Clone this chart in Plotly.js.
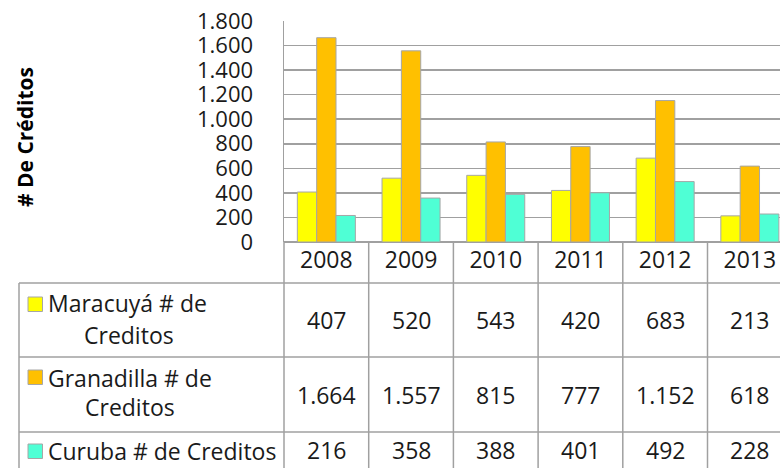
<!DOCTYPE html>
<html><head><meta charset="utf-8">
<script src="https://cdn.plot.ly/plotly-3.0.1.min.js"></script>
<style>body{margin:0;background:#fff}#chart{width:780px;height:468px}</style>
</head><body><div id="chart"></div>
<script>
// ---- data ----
const years = ['2008', '2009', '2010', '2011', '2012', '2013'];
const maracuya = [407, 520, 543, 420, 683, 213];
const granadilla = [1664, 1557, 815, 777, 1152, 618];
const curuba = [216, 358, 388, 401, 492, 228];
const seriesNames = ['Maracuyá # de Creditos', 'Granadilla # de Creditos', 'Curuba # de Creditos'];
const seriesColors = ['#FFFF00', '#FFC000', '#4FFFD5'];
const yTitle = '# De Créditos';
const yTickVals = [0, 200, 400, 600, 800, 1000, 1200, 1400, 1600, 1800];

// ---- layout constants ----
const W = 780, H = 468, ML = 284, MR = 0, MT = 21, MB = 226;
const plotW = W - ML - MR, plotH = H - MT - MB, zeroY = H - MB;
const catW = 84.7;
const xMin = -0.5, xMax = xMin + plotW / catW;
const px2paperX = p => (p - ML) / plotW;
const px2paperY = p => (zeroY - p) / plotH;
const dataX2paper = x => (x - xMin) / (xMax - xMin);
const fmt = n => String(n).replace(/\B(?=(\d{3})+(?!\d))/g, '.');
const FONT = '"Open Sans", Lato, sans-serif';
const TXT = '#1a1a1a';
const LINE = '#a0a0a0';
const FS = 23;

const allSeries = [maracuya, granadilla, curuba];
const traces = allSeries.map((vals, i) => ({
  type: 'bar', x: years, y: vals, name: seriesNames[i],
  marker: {color: seriesColors[i], line: {color: '#a6a6a6', width: 1}},
  hoverinfo: 'x+y'
}));

const shapes = [];
const annotations = [];
const tableBottom = px2paperY(470);
// vertical category lines in table
for (let k = 0; k < years.length; k++) {
  const xp = dataX2paper(k - 0.5);
  shapes.push({type: 'line', xref: 'paper', yref: 'paper', x0: xp, x1: xp, y0: 0, y1: tableBottom,
    line: {color: LINE, width: 1.5}});
}
// left border of table
const tableLeft = px2paperX(19);
shapes.push({type: 'line', xref: 'paper', yref: 'paper', x0: tableLeft, x1: tableLeft,
  y0: px2paperY(283), y1: tableBottom, line: {color: LINE, width: 1.5}});
// horizontal row lines
[283, 357, 432].forEach(py => {
  shapes.push({type: 'line', xref: 'paper', yref: 'paper', x0: tableLeft, x1: 1,
    y0: px2paperY(py), y1: px2paperY(py), line: {color: LINE, width: 1.5}});
});

// rows: value text + legend keys + labels
const rowCenters = [320, 394.5, 450];
const keyTops = [297, 370, 444];
const labelLines = [
  [[303, 'Maracuyá # de', 'left', 46], [335, 'Creditos', 'center', 129]],
  [[378, 'Granadilla # de', 'left', 46], [407, 'Creditos', 'center', 130]],
  [[451, 'Curuba # de Creditos', 'left', 46]]
];
allSeries.forEach((vals, i) => {
  vals.forEach((v, k) => {
    annotations.push({xref: 'paper', yref: 'paper', x: dataX2paper(k), y: px2paperY(rowCenters[i]),
      text: fmt(v), showarrow: false, xanchor: 'center', yanchor: 'middle',
      font: {family: FONT, size: FS, color: TXT}});
  });
  shapes.push({type: 'rect', xref: 'paper', yref: 'paper',
    x0: px2paperX(28), x1: px2paperX(42.5), y0: px2paperY(keyTops[i]), y1: px2paperY(keyTops[i] + 14.5),
    fillcolor: seriesColors[i], line: {color: '#a6a6a6', width: 1}});
  labelLines[i].forEach(([py, t, anchor, pxX]) => {
    annotations.push({xref: 'paper', yref: 'paper', x: px2paperX(pxX), y: px2paperY(py),
      text: t, showarrow: false, xanchor: anchor, yanchor: 'middle',
      font: {family: FONT, size: FS, color: TXT}});
  });
});

// y-axis title
annotations.push({xref: 'paper', yref: 'paper', x: px2paperX(25), y: px2paperY(137),
  text: '<b>' + yTitle + '</b>', textangle: -90, showarrow: false, xanchor: 'center', yanchor: 'middle',
  font: {family: FONT, size: 21, color: '#000'}});

const layout = {
  width: W, height: H,
  margin: {l: ML, r: MR, t: MT, b: MB, pad: 0},
  paper_bgcolor: '#fff', plot_bgcolor: '#fff',
  separators: ',.',
  showlegend: false,
  barmode: 'group', bargap: 0.315, bargroupgap: 0,
  font: {family: FONT, size: FS, color: TXT},
  xaxis: {type: 'category', range: [xMin, xMax], showgrid: false, zeroline: false,
    showline: false, ticks: '', ticklabelstandoff: 2,
    tickfont: {family: FONT, size: FS, color: TXT}, fixedrange: true},
  yaxis: {range: [0, 1800], tickvals: yTickVals, tickformat: ',d',
    showgrid: true, gridcolor: LINE, gridwidth: 1.5,
    zeroline: true, zerolinecolor: LINE, zerolinewidth: 1.5,
    showline: true, linecolor: LINE, linewidth: 1.5, mirror: false,
    ticks: '', ticklabelstandoff: 25,
    tickfont: {family: FONT, size: 22, color: TXT}, fixedrange: true},
  shapes: shapes,
  annotations: annotations
};
Plotly.newPlot('chart', traces, layout, {displayModeBar: false, staticPlot: true});
</script></body></html>
